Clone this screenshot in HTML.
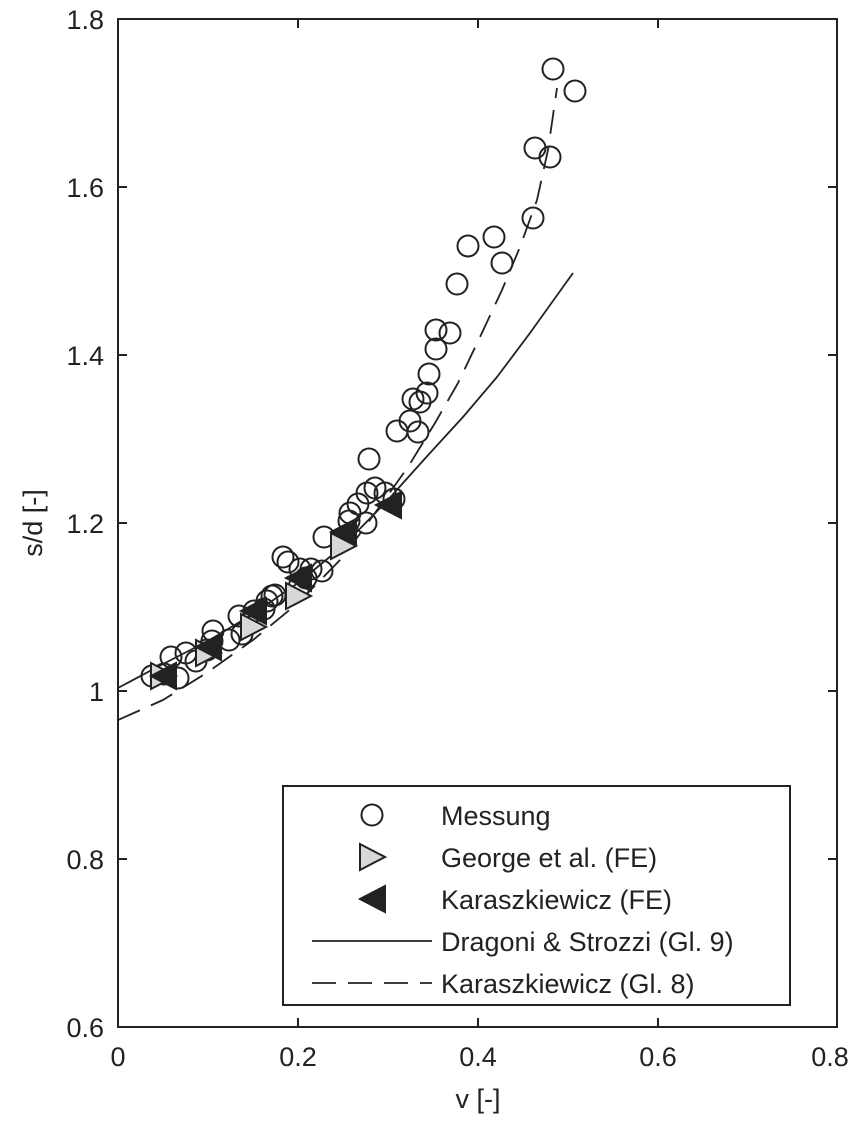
<!DOCTYPE html>
<html><head><meta charset="utf-8"><style>body{margin:0;background:#fff}svg{display:block}</style></head><body>
<svg width="863" height="1122" viewBox="0 0 863 1122" xmlns="http://www.w3.org/2000/svg" font-family="Liberation Sans, sans-serif" fill="#222">
<defs>
<clipPath id="c"><rect x="118" y="19" width="719" height="1008"/></clipPath>
<g id="o"><circle r="10.5" fill="none" stroke="#222" stroke-width="2"/></g>
<polygon id="g" points="-12,-13 13,0 -12,13" fill="#d8d8d8" stroke="#222" stroke-width="2"/>
<polygon id="k" points="13,-13 -12,0 13,13" fill="#222" stroke="#222" stroke-width="2"/>
</defs>
<rect x="118" y="19" width="719" height="1008" fill="none" stroke="#222" stroke-width="2"/>
<g stroke="#222" stroke-width="2">
<line x1="298" y1="1027" x2="298" y2="1018"/><line x1="478" y1="1027" x2="478" y2="1018"/><line x1="658" y1="1027" x2="658" y2="1018"/>
<line x1="298" y1="19" x2="298" y2="28"/><line x1="478" y1="19" x2="478" y2="28"/><line x1="658" y1="19" x2="658" y2="28"/>
<line x1="118" y1="187" x2="127" y2="187"/><line x1="118" y1="355" x2="127" y2="355"/><line x1="118" y1="523" x2="127" y2="523"/><line x1="118" y1="691" x2="127" y2="691"/><line x1="118" y1="859" x2="127" y2="859"/>
<line x1="828" y1="187" x2="837" y2="187"/><line x1="828" y1="355" x2="837" y2="355"/><line x1="828" y1="523" x2="837" y2="523"/><line x1="828" y1="691" x2="837" y2="691"/><line x1="828" y1="859" x2="837" y2="859"/>
</g>
<g font-size="27" text-anchor="middle">
<text x="118" y="1066">0</text><text x="298" y="1066">0.2</text><text x="478" y="1066">0.4</text><text x="658" y="1066">0.6</text><text x="830" y="1066">0.8</text>
<text x="478" y="1108">v [-]</text>
</g>
<g font-size="27" text-anchor="end">
<text x="104" y="29">1.8</text><text x="104" y="197">1.6</text><text x="104" y="365">1.4</text><text x="104" y="533">1.2</text><text x="104" y="701">1</text><text x="104" y="869">0.8</text><text x="104" y="1037">0.6</text>
</g>
<text font-size="27" text-anchor="middle" transform="translate(42,523) rotate(-90)">s/d [-]</text>
<g clip-path="url(#c)" fill="none" stroke="#222" stroke-width="1.8" stroke-linejoin="round">
<polyline points="118,688 163,664 208,641 253,614 298,583 343,546 388,500 403,483 430,453 463,417 497,377 530,333 573,273"/>
<polyline stroke-dasharray="24,12" points="118,720 163,700 208,672 253,640 298,603 343,557 388,495 408,467 435,423 458,383 480,337 502,290 520,247 537,200 548,150 557,88"/>
</g>
<g>
<use href="#o" x="152" y="676"/><use href="#o" x="164" y="674"/><use href="#o" x="178" y="678"/><use href="#o" x="171" y="657"/><use href="#o" x="186" y="653"/><use href="#o" x="196" y="661"/><use href="#o" x="207" y="650"/><use href="#o" x="212" y="641"/><use href="#o" x="213" y="631"/><use href="#o" x="229" y="640"/><use href="#o" x="239" y="616"/><use href="#o" x="242" y="634"/><use href="#o" x="254" y="611"/><use href="#o" x="264" y="609"/><use href="#o" x="267" y="601"/><use href="#o" x="272" y="596"/><use href="#o" x="283" y="557"/><use href="#o" x="288" y="562"/><use href="#o" x="275" y="595"/><use href="#o" x="299" y="587"/><use href="#o" x="300" y="569"/><use href="#o" x="306" y="578"/><use href="#o" x="311" y="569"/><use href="#o" x="322" y="571"/><use href="#o" x="324" y="537"/><use href="#o" x="349" y="521"/><use href="#o" x="350" y="513"/><use href="#o" x="358" y="504"/><use href="#o" x="369" y="459"/><use href="#o" x="367" y="493"/><use href="#o" x="375" y="488"/><use href="#o" x="366" y="523"/><use href="#o" x="385" y="493"/><use href="#o" x="394" y="499"/>
<use href="#o" x="397" y="431"/><use href="#o" x="418" y="432"/><use href="#o" x="410" y="421"/><use href="#o" x="413" y="399"/><use href="#o" x="420" y="402"/><use href="#o" x="427" y="393"/><use href="#o" x="429" y="374"/><use href="#o" x="436" y="349"/><use href="#o" x="436" y="330"/><use href="#o" x="450" y="333"/><use href="#o" x="457" y="284"/><use href="#o" x="468" y="246"/><use href="#o" x="494" y="237"/><use href="#o" x="502" y="263"/><use href="#o" x="533" y="218"/><use href="#o" x="535" y="148"/><use href="#o" x="550" y="157"/><use href="#o" x="553" y="69"/><use href="#o" x="575" y="91"/>
<use href="#g" x="163" y="676"/><use href="#g" x="208" y="653"/><use href="#g" x="253" y="627"/><use href="#g" x="298" y="596"/><use href="#g" x="343" y="546"/>
<use href="#k" x="163" y="676"/><use href="#k" x="208" y="647"/><use href="#k" x="253" y="611"/><use href="#k" x="298" y="578"/><use href="#k" x="343" y="532"/><use href="#k" x="388" y="505"/>
</g>
<rect x="283" y="786" width="507" height="219" fill="#fff" stroke="#222" stroke-width="2"/>
<use href="#o" x="372" y="815"/><use href="#g" x="372" y="857"/><use href="#k" x="372" y="899"/>
<line x1="312" y1="941" x2="432" y2="941" stroke="#222" stroke-width="1.8"/>
<line x1="312" y1="983" x2="432" y2="983" stroke="#222" stroke-width="1.8" stroke-dasharray="24,12"/>
<g font-size="27">
<text x="441" y="825">Messung</text><text x="441" y="867">George et al. (FE)</text><text x="441" y="909">Karaszkiewicz (FE)</text><text x="441" y="951">Dragoni &amp; Strozzi (Gl. 9)</text><text x="441" y="993">Karaszkiewicz (Gl. 8)</text>
</g>
</svg>
</body></html>
